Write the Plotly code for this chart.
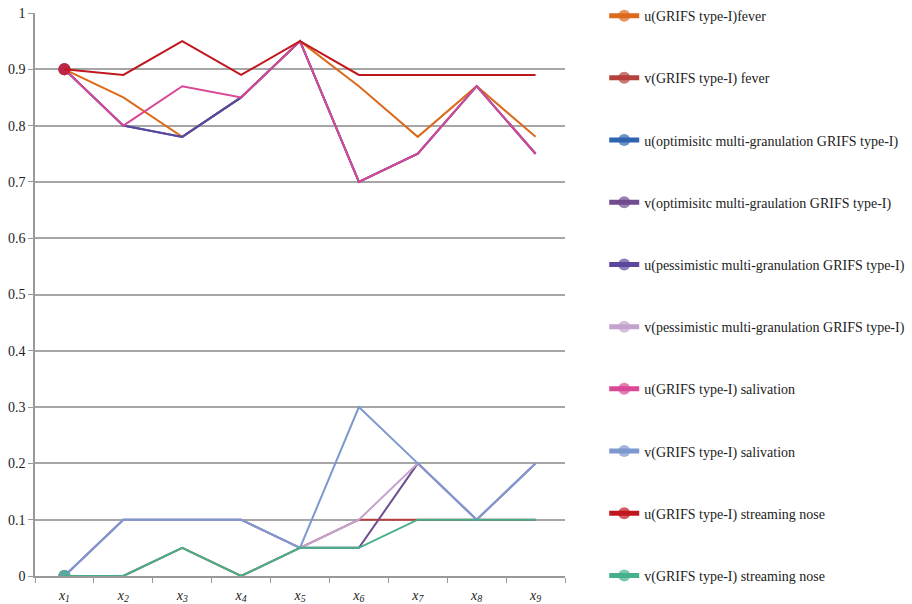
import plotly.graph_objects as go

categories = ["x1", "x2", "x3", "x4", "x5", "x6", "x7", "x8", "x9"]
tick_labels = ["<i>x<sub>%d</sub></i>" % i for i in range(1, 10)]

series_names = [
    "u(GRIFS type-I)fever",
    "v(GRIFS type-I) fever",
    "u(optimisitc multi-granulation GRIFS type-I)",
    "v(optimisitc multi-graulation GRIFS type-I)",
    "u(pessimistic multi-granulation GRIFS type-I)",
    "v(pessimistic multi-granulation GRIFS type-I)",
    "u(GRIFS type-I) salivation",
    "v(GRIFS type-I) salivation",
    "u(GRIFS type-I) streaming nose",
    "v(GRIFS type-I) streaming nose",
]

u_fever = [0.9, 0.85, 0.78, 0.85, 0.95, 0.87, 0.78, 0.87, 0.78]
v_fever = [0.0, 0.0, 0.05, 0.0, 0.05, 0.1, 0.1, 0.1, 0.1]
u_opt = [0.9, 0.8, 0.78, 0.85, 0.95, 0.7, 0.75, 0.87, 0.75]
v_opt = [0.0, 0.1, 0.1, 0.1, 0.05, 0.05, 0.2, 0.1, 0.2]
u_pess = [0.9, 0.8, 0.78, 0.85, 0.95, 0.7, 0.75, 0.87, 0.75]
v_pess = [0.0, 0.1, 0.1, 0.1, 0.05, 0.1, 0.2, 0.1, 0.2]
u_sal = [0.9, 0.8, 0.87, 0.85, 0.95, 0.7, 0.75, 0.87, 0.75]
v_sal = [0.0, 0.1, 0.1, 0.1, 0.05, 0.3, 0.2, 0.1, 0.2]
u_stream = [0.9, 0.89, 0.95, 0.89, 0.95, 0.89, 0.89, 0.89, 0.89]
v_stream = [0.0, 0.0, 0.05, 0.0, 0.05, 0.05, 0.1, 0.1, 0.1]

series_values = [u_fever, v_fever, u_opt, v_opt, u_pess, v_pess, u_sal, v_sal, u_stream, v_stream]

colors = ["#DC6A1C", "#B5403C", "#2F64B0", "#6F4C8E", "#5C479C",
          "#C4A2CE", "#D94895", "#7D97CF", "#C0171E", "#46B08A"]

FONT = "Liberation Serif"

fig = go.Figure()
for i, (name, vals, col) in enumerate(zip(series_names, series_values, colors)):
    sizes = [12] + [0] * (len(vals) - 1)
    fig.add_trace(go.Scatter(
        x=categories, y=vals, name=name, mode="lines+markers",
        line=dict(color=col, width=2),
        marker=dict(color=col, size=sizes, line=dict(width=0)),
        legendgroup="g%d" % i,
    ))

fig.update_layout(
    width=912, height=604,
    margin=dict(l=35, r=347, t=13, b=28, autoexpand=False),
    paper_bgcolor="white", plot_bgcolor="white",
    font=dict(family=FONT, size=14, color="#222222"),
    showlegend=True,
    legend=dict(
        x=1.074, y=1.023, xanchor="left", yanchor="top",
        traceorder="grouped", tracegroupgap=41, maxheight=604,
        itemsizing="constant", font=dict(family=FONT, size=14, color="#222222"),
        bgcolor="rgba(0,0,0,0)",
    ),
    xaxis=dict(
        type="category", range=[-0.5, 8.5], automargin=False,
        tickmode="array", tickvals=categories, ticktext=tick_labels,
        tickson="boundaries", ticks="outside", ticklen=5, tickcolor="#999999",
        ticklabelstandoff=5,
        showline=True, linecolor="#999999", linewidth=1.5,
        showgrid=False, zeroline=False,
        tickfont=dict(family=FONT, size=14, color="#222222"),
    ),
    yaxis=dict(
        range=[0, 1], dtick=0.1, tick0=0, automargin=False,
        ticks="outside", ticklen=5, tickcolor="#999999",
        showline=True, linecolor="#999999", linewidth=1.5,
        showgrid=True, gridcolor="#A6A6A6", gridwidth=1.5,
        zeroline=False,
        tickfont=dict(family=FONT, size=14, color="#222222"),
    ),
)

fig.write_html("out.html", config={"displayModeBar": False},
               post_script="document.body.style.margin='0';")
